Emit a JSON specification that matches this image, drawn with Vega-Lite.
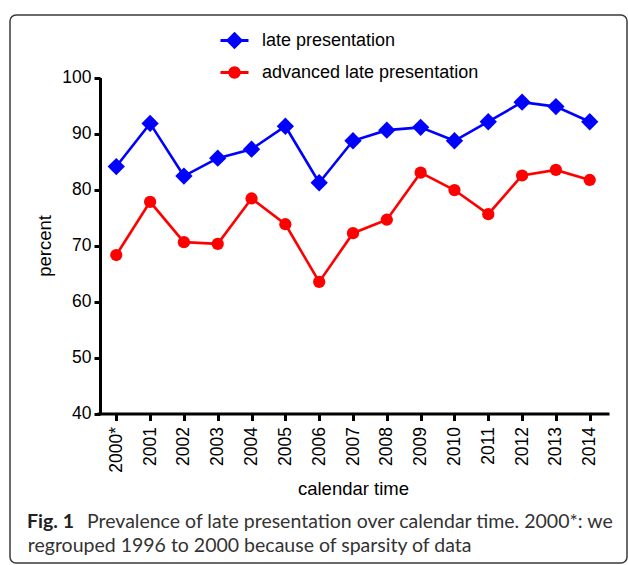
{
  "$schema": "https://vega.github.io/schema/vega-lite/v6.json",
  "autosize": {"type": "pad"},
  "padding": {"left": 9, "top": 14, "right": 0, "bottom": 0},
  "background": "white",
  "config": {
    "font": "Liberation Sans",
    "view": {"stroke": "#3a3a3a", "strokeWidth": 1.5, "cornerRadius": 6},
    "axis": {"grid": false, "domainColor": "#000", "domainWidth": 3, "tickColor": "#000", "tickWidth": 3, "labelColor": "#000", "labelFont": "Liberation Sans", "labelFontSize": 17.5, "titleFont": "Liberation Sans", "titleFontSize": 18.5, "titleFontWeight": "normal", "titleColor": "#000"},
    "legend": {"symbolSize": 784, "symbolStrokeWidth": 3, "symbolOpacity": 1}
  },
  "title": {"text": "Fig. 1", "orient": "bottom", "anchor": "start", "frame": "bounds", "baseline": "alphabetic", "offset": -35.75, "dx": 17.75, "font": "Lato", "fontSize": 19.5, "fontWeight": "bold", "color": "#222"},
  "vconcat": [
    {
      "title": {"text": "Prevalence of late presentation over calendar time. 2000*: we", "orient": "bottom", "anchor": "start", "frame": "bounds", "baseline": "alphabetic", "offset": -35.75, "dx": 77.75, "font": "Lato", "fontSize": 19.5, "fontWeight": "normal", "color": "#333"},
      "vconcat": [
        {
          "title": {"text": "regrouped 1996 to 2000 because of sparsity of data", "orient": "bottom", "anchor": "start", "frame": "bounds", "baseline": "alphabetic", "offset": -10.75, "dx": 17.75, "font": "Lato", "fontSize": 19.5, "fontWeight": "normal", "color": "#333"},
          "width": 617,
          "height": 548,
          "data": {"values": [
            {"year": "2000*", "series": "late presentation", "value": 84.1},
            {"year": "2001", "series": "late presentation", "value": 91.8},
            {"year": "2002", "series": "late presentation", "value": 82.4},
            {"year": "2003", "series": "late presentation", "value": 85.6},
            {"year": "2004", "series": "late presentation", "value": 87.2},
            {"year": "2005", "series": "late presentation", "value": 91.3},
            {"year": "2006", "series": "late presentation", "value": 81.2},
            {"year": "2007", "series": "late presentation", "value": 88.7},
            {"year": "2008", "series": "late presentation", "value": 90.6},
            {"year": "2009", "series": "late presentation", "value": 91.1},
            {"year": "2010", "series": "late presentation", "value": 88.7},
            {"year": "2011", "series": "late presentation", "value": 92.1},
            {"year": "2012", "series": "late presentation", "value": 95.6},
            {"year": "2013", "series": "late presentation", "value": 94.8},
            {"year": "2014", "series": "late presentation", "value": 92.1},
            {"year": "2000*", "series": "advanced late presentation", "value": 68.3},
            {"year": "2001", "series": "advanced late presentation", "value": 77.8},
            {"year": "2002", "series": "advanced late presentation", "value": 70.6},
            {"year": "2003", "series": "advanced late presentation", "value": 70.3},
            {"year": "2004", "series": "advanced late presentation", "value": 78.4},
            {"year": "2005", "series": "advanced late presentation", "value": 73.8},
            {"year": "2006", "series": "advanced late presentation", "value": 63.5},
            {"year": "2007", "series": "advanced late presentation", "value": 72.2},
            {"year": "2008", "series": "advanced late presentation", "value": 74.6},
            {"year": "2009", "series": "advanced late presentation", "value": 83.0},
            {"year": "2010", "series": "advanced late presentation", "value": 79.9},
            {"year": "2011", "series": "advanced late presentation", "value": 75.6},
            {"year": "2012", "series": "advanced late presentation", "value": 82.5},
            {"year": "2013", "series": "advanced late presentation", "value": 83.5},
            {"year": "2014", "series": "advanced late presentation", "value": 81.7}
          ]},
          "encoding": {
            "x": {"field": "year", "type": "ordinal", "sort": null,
              "scale": {"type": "point", "range": [87, 599], "padding": 0.57},
              "axis": {"title": "calendar time", "offset": -149.5, "labelAngle": 270, "tickSize": 7, "labelPadding": 6, "titlePadding": 7}},
            "y": {"field": "value", "type": "quantitative",
              "scale": {"domain": [40, 100], "range": [398.5, 62.5], "zero": false, "nice": false},
              "axis": {"title": "percent", "offset": -90, "values": [40, 50, 60, 70, 80, 90, 100], "tickSize": 6, "labelPadding": 3, "titlePadding": 7}}
          },
          "layer": [
            {
              "transform": [{"filter": "datum.series === 'late presentation'"}],
              "mark": {"type": "line", "strokeWidth": 2.6, "color": "#0000ff"},
              "encoding": {}
            },
            {
              "transform": [{"filter": "datum.series === 'advanced late presentation'"}],
              "mark": {"type": "line", "strokeWidth": 2.6, "color": "#ff0000"},
              "encoding": {}
            },
            {
              "transform": [{"filter": "datum.series === 'late presentation'"}],
              "mark": {"type": "point", "shape": "diamond", "filled": true, "size": 300, "opacity": 1, "color": "#0000ff"},
              "encoding": {}
            },
            {
              "transform": [{"filter": "datum.series === 'advanced late presentation'"}],
              "mark": {"type": "point", "shape": "circle", "filled": true, "size": 150, "opacity": 1, "color": "#ff0000"},
              "encoding": {}
            },
            {
              "transform": [{"filter": "false"}],
              "mark": {"type": "point", "filled": true, "opacity": 1, "strokeWidth": 3},
              "encoding": {
                "color": {"field": "series", "type": "nominal",
                  "scale": {"domain": ["late presentation", "advanced late presentation"], "range": ["#0000ff", "#ff0000"]},
                  "legend": {"title": null, "orient": "none", "legendX": 209, "legendY": 10, "padding": 0, "offset": 0,
                    "symbolSize": 784, "labelOffset": 12, "rowPadding": 3, "symbolStrokeWidth": 3,
                    "labelFont": "Liberation Sans", "labelFontSize": 18, "labelColor": "#000", "labelLimit": 400}},
                "stroke": {"field": "series", "type": "nominal",
                  "scale": {"domain": ["late presentation", "advanced late presentation"], "range": ["#0000ff", "#ff0000"]},
                  "legend": {"title": null, "orient": "none", "legendX": 209, "legendY": 10, "padding": 0, "offset": 0,
                    "symbolSize": 784, "labelOffset": 12, "rowPadding": 3, "symbolStrokeWidth": 3,
                    "labelFont": "Liberation Sans", "labelFontSize": 18, "labelColor": "#000", "labelLimit": 400}},
                "shape": {"field": "series", "type": "nominal",
                  "scale": {"domain": ["late presentation", "advanced late presentation"], "range": ["M-1,0H1M0,-0.47L0.47,0L0,0.47L-0.47,0Z", "M-1,0H1M0.34,0A0.34,0.34,0,1,1,-0.34,0A0.34,0.34,0,1,1,0.34,0Z"]},
                  "legend": {"title": null, "orient": "none", "legendX": 209, "legendY": 10, "padding": 0, "offset": 0,
                    "symbolSize": 784, "labelOffset": 12, "rowPadding": 3, "symbolStrokeWidth": 3,
                    "labelFont": "Liberation Sans", "labelFontSize": 18, "labelColor": "#000", "labelLimit": 400}}
              }
            }
          ]
        }
      ]
    }
  ]
}
